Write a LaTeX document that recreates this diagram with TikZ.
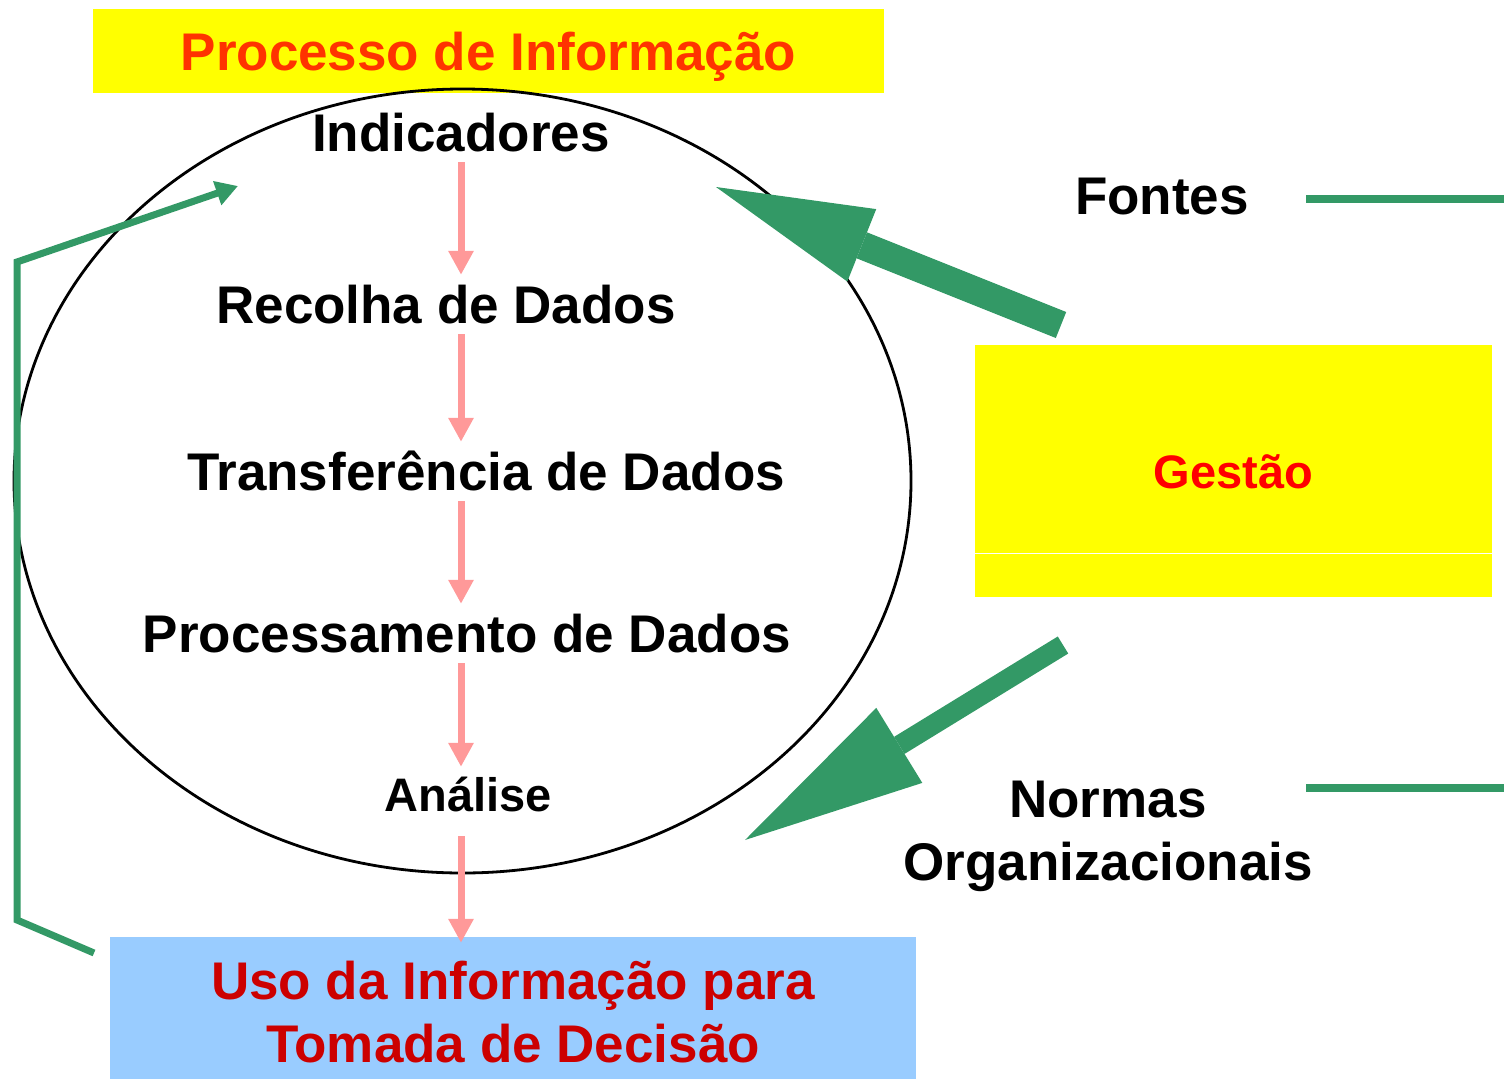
\documentclass[tikz,border=0pt]{standalone}
\usepackage{fontspec}
\setmainfont{Liberation Sans}
\usetikzlibrary{arrows.meta,shapes.geometric}

\definecolor{amarelo}{HTML}{FFFF00}
\definecolor{laranja}{HTML}{FF3300}
\definecolor{vermelho}{HTML}{FF0000}
\definecolor{bordo}{HTML}{CC0000}
\definecolor{azul}{HTML}{99CCFF}
\definecolor{verde}{HTML}{339966}
\definecolor{rosa}{HTML}{FF9999}

\begin{document}
\begin{tikzpicture}[x=1pt, y=-1pt, font={\bfseries\fontsize{53}{63}\selectfont}]
	\tikzstyle{etapa} = [inner sep=0pt, text height=38pt, text depth=0pt, anchor=base];
	\tikzstyle{caixa} = [inner sep=0pt, text height=38pt, text depth=0pt, align=center];
	\tikzstyle{passo} = [rosa, line width=7pt, -{Triangle[length=24pt, width=24pt]}, shorten <=11pt, shorten >=10pt];
	\tikzstyle{fino} = [verde, line width=8pt];
	\tikzstyle{retorno} = [verde, line width=7pt, line join=miter, -{Triangle[length=22pt, width=24pt]}];
	\tikzstyle{forte} = [verde, -{Triangle[length=157pt, width=78pt, line width=0pt]}];

	\useasboundingbox (0,0) rectangle (1504,1079);

	% titulo e ciclo
	\node[caixa, fill=amarelo, text=laranja, minimum width=791pt, minimum height=84pt] (titulo) at (488.5,51) {Processo de Informação};
	\node[ellipse, draw, line width=2.8pt, minimum width=897pt, minimum height=784pt, inner sep=0pt] (ciclo) at (462.5,481) {};

	\coordinate (eixo) at (461,0);

	\node[etapa] (ind) at (461,151) {Indicadores};
	\node[etapa] (rec) at (446,323) {Recolha de Dados};
	\node[etapa] (trf) at (486,490) {Transferência de Dados};
	\node[etapa] (prc) at (467,652) {Processamento de Dados};
	\node[etapa, font={\bfseries\fontsize{47}{56}\selectfont}, text height=34pt] (ana) at (468,811) {Análise};

	\node[caixa, fill=azul, text=bordo, minimum width=806pt, minimum height=142pt, text height=108pt] (uso) at (513,1008) {Uso da Informação para\\Tomada de Decisão};

	\foreach \a/\b in {ind/rec, rec/trf, trf/prc, prc/ana}
		\draw[passo] (\a.south -| eixo) -- (\b.north -| eixo);
	\draw[passo, shorten <=25pt, shorten >=-6pt] (ana.south -| eixo) -- (uso.north -| eixo);

	% lado direito
	\node[caixa, fill=amarelo, text=vermelho, minimum width=517pt, minimum height=252pt, font={\bfseries\fontsize{47}{56}\selectfont}, text height=34pt] (gestao) at (1233.5,471) {Gestão};
	\draw[white, line width=1pt] (gestao.west |- 0,553) -- (gestao.east |- 0,553);

	\node[etapa] (fontes) at (1162,214) {Fontes};
	\node[caixa, text height=101pt] (normas) at (1108,829.5) {Normas\\Organizacionais};

	\coordinate (iniF) at (1306,199);
	\coordinate (fimF) at (1504,199);
	\coordinate (iniN) at (1306,788);
	\coordinate (fimN) at (1504,788);
	\draw[fino] (iniF) -- (fimF);
	\draw[fino] (iniN) -- (fimN);

	\coordinate (g1) at (1061,325);
	\coordinate (p1) at (716,187);
	\coordinate (g2) at (1063,645);
	\coordinate (p2) at (745,840);
	\draw[forte, line width=28pt] (g1) -- (p1);
	\draw[forte, line width=20pt, -{Triangle[length=181pt, width=88pt, line width=0pt]}] (g2) -- (p2);

	% retorno
	\coordinate (r0) at (94,953);
	\coordinate (r1) at (17,920);
	\coordinate (r2) at (17,262);
	\coordinate (r3) at (238,186);
	\draw[retorno] (r0) -- (r1) -- (r2) -- (r3);
\end{tikzpicture}
\end{document}
